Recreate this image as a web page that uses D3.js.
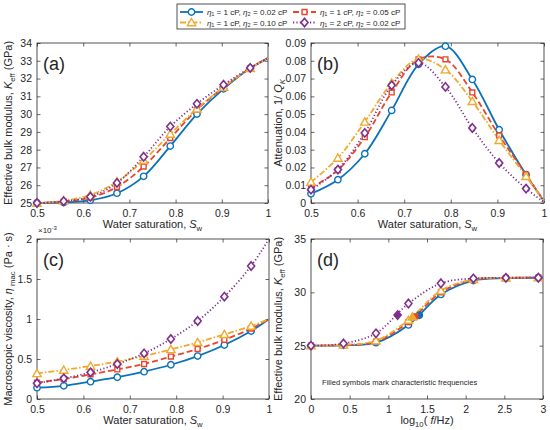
<!DOCTYPE html>
<html>
<head>
<meta charset="utf-8">
<script src="https://cdn.jsdelivr.net/npm/d3@7"></script>
<style>
  body { margin: 0; background: #fff; }
  text { font-family: "Liberation Sans", Arial, sans-serif; fill: #262626; }
</style>
</head>
<body>
<svg id="fig" width="550" height="430"></svg>
<script>
// ---- data ----
var swMarks = [0.5, 0.5577, 0.6154, 0.6731, 0.7308, 0.7885, 0.8462, 0.9038, 0.9615];
var sw = swMarks.concat([1.0]);

// (a) effective bulk modulus, GPa
var kBlue   = [25.0, 25.03, 25.15, 25.55, 26.5, 28.2, 30.0, 31.42, 32.58, 33.15];
var kRed    = [25.0, 25.08, 25.3, 25.9, 27.05, 28.65, 30.25, 31.5, 32.58, 33.15];
var kYellow = [25.0, 25.13, 25.45, 26.2, 27.4, 28.88, 30.3, 31.52, 32.58, 33.15];
var kPurple = [25.0, 25.1, 25.35, 26.13, 27.6, 29.3, 30.58, 31.65, 32.6, 33.15];

// (b) attenuation 1/Q_K
var qBlue   = [0.0052, 0.0131, 0.0277, 0.0521, 0.078, 0.0882, 0.0695, 0.0412, 0.0159, 0.001];
var qRed    = [0.0085, 0.0185, 0.037, 0.0622, 0.0808, 0.0808, 0.0622, 0.038, 0.016, 0.001];
var qYellow = [0.0118, 0.0253, 0.0456, 0.0675, 0.081, 0.075, 0.0572, 0.0353, 0.015, 0.001];
var qPurple = [0.0075, 0.0188, 0.0394, 0.0662, 0.0788, 0.0653, 0.0422, 0.0225, 0.0081, 0.0005];

// (c) macroscopic viscosity, x1e-3 Pa s
var vBlue   = [0.142, 0.165, 0.217, 0.272, 0.342, 0.428, 0.537, 0.675, 0.85, 1.0];
var vRed    = [0.204, 0.25, 0.308, 0.37, 0.4375, 0.53, 0.625, 0.74, 0.88, 1.0];
var vYellow = [0.32, 0.3625, 0.4125, 0.467, 0.5375, 0.62, 0.708, 0.808, 0.9125, 1.0];
var vPurple = [0.196, 0.258, 0.333, 0.4375, 0.57, 0.75, 0.975, 1.279, 1.6625, 2.0];

// (d) K_eff vs log10 frequency
var fMarks = [0, 0.42, 0.84, 1.26, 1.68, 2.1, 2.52, 2.94];
var logf = fMarks.concat([3.0]);
var dBlue   = [25.0, 25.03, 25.28, 26.94, 29.8, 31.1, 31.33, 31.37, 31.37];
var dRed    = [25.0, 25.05, 25.38, 27.2, 30.0, 31.18, 31.35, 31.37, 31.37];
var dYellow = [25.0, 25.07, 25.47, 27.4, 30.16, 31.22, 31.36, 31.37, 31.37];
var dPurple = [25.0, 25.2, 26.16, 28.95, 30.85, 31.3, 31.36, 31.37, 31.37];
// characteristic frequencies (filled symbols), order blue, red, yellow, purple
var fcX = [1.40, 1.35, 1.31, 1.12];
var fcY = [27.85, 27.75, 27.7, 27.87];

var seriesNames = [
  [["η", 1], ["₁", 0], [" = 1 cP, ", 0], ["η", 1], ["₂", 0], [" = 0.02 cP", 0]],
  [["η", 1], ["₁", 0], [" = 1 cP, ", 0], ["η", 1], ["₂", 0], [" = 0.05 cP", 0]],
  [["η", 1], ["₁", 0], [" = 1 cP, ", 0], ["η", 1], ["₂", 0], [" = 0.10 cP", 0]],
  [["η", 1], ["₁", 0], [" = 2 cP, ", 0], ["η", 1], ["₂", 0], [" = 0.02 cP", 0]]
];

var colors = ["#0b72b9", "#e8452c", "#f0a92e", "#7e2f8e"];
var dashes = [null, "6,3", "6,2,1.5,2", "1.2,2.2"];
var symbols = [d3.symbolCircle, d3.symbolSquare, d3.symbolTriangle, d3.symbolDiamond];
var symSizes = [32, 24, 30, 30];

var svg = d3.select("#fig");
svg.append("rect").attr("width", 550).attr("height", 430).attr("fill", "#fff");

function richText(sel, parts, size) {
  parts.forEach(function(p) {
    var t = sel.append("tspan").text(p[0]);
    if (p[1] == 1) t.style("font-style", "italic");
    if (p[2] == "sub") t.attr("font-size", size * 0.7).attr("dy", 3);
    if (p[2] == "up") t.attr("dy", -3);
  });
}

function marker(g, i, x, y, filled) {
  var path = d3.symbol().type(symbols[i]).size(symSizes[i])();
  g.append("path")
    .attr("d", path)
    .attr("transform", "translate(" + x + "," + (i == 2 ? y + 0.8 : y) + ")" + (i == 3 ? "scale(1.2,0.82)" : ""))
    .attr("fill", filled ? colors[i] : "#fff")
    .attr("stroke", colors[i])
    .attr("stroke-width", i == 3 ? 1.5 : 1.4);
}

function panel(opt) {
  var x = d3.scaleLinear().domain(opt.xd).range([opt.left, opt.right]);
  var y = d3.scaleLinear().domain(opt.yd).range([opt.bottom, opt.top]);
  var g = svg.append("g");

  // axes, MATLAB style: inward ticks on all four sides
  var ax = g.append("g").attr("transform", "translate(0," + opt.bottom + ")")
    .call(d3.axisBottom(x).tickValues(opt.xt).tickSizeInner(-3.5).tickSizeOuter(0).tickPadding(5).tickFormat(d3.format("~g")));
  var axTop = g.append("g").attr("transform", "translate(0," + opt.top + ")")
    .call(d3.axisTop(x).tickValues(opt.xt).tickSizeInner(-3.5).tickSizeOuter(0).tickFormat(""));
  var ay = g.append("g").attr("transform", "translate(" + opt.left + ",0)")
    .call(d3.axisLeft(y).tickValues(opt.yt).tickSizeInner(-3.5).tickSizeOuter(0).tickPadding(5).tickFormat(opt.yf || d3.format("~g")));
  var ayR = g.append("g").attr("transform", "translate(" + opt.right + ",0)")
    .call(d3.axisRight(y).tickValues(opt.yt).tickSizeInner(-3.5).tickSizeOuter(0).tickFormat(""));
  [ax, axTop, ay, ayR].forEach(function(a) {
    a.select(".domain").remove();
    a.selectAll("line").attr("stroke", "#262626").attr("stroke-width", 0.7);
    a.selectAll("text").attr("font-size", 10.5).attr("fill", "#262626")
      .style("font-family", "'Liberation Sans', Arial, sans-serif");
  });
  ax.selectAll("text").attr("dy", "0.85em");
  g.append("rect").attr("x", opt.left).attr("y", opt.top)
    .attr("width", opt.right - opt.left).attr("height", opt.bottom - opt.top)
    .attr("fill", "none").attr("stroke", "#262626").attr("stroke-width", 0.8);

  var line = d3.line().curve(d3.curveCatmullRom.alpha(0.5))
    .x(function(d) { return x(d[0]); }).y(function(d) { return y(d[1]); });

  var plot = g.append("g");
  opt.series.forEach(function(vals, i) {
    var pts = opt.xs.map(function(xv, j) { return [xv, vals[j]]; });
    plot.append("path").attr("d", line(pts))
      .attr("fill", "none").attr("stroke", colors[i]).attr("stroke-width", 1.8)
      .attr("stroke-dasharray", dashes[i]);
  });
  opt.series.forEach(function(vals, i) {
    opt.marks.forEach(function(xv, j) {
      marker(plot, i, x(xv), y(vals[j]), false);
    });
  });
  if (opt.filledX) {
    opt.filledX.forEach(function(xv, i) {
      marker(plot, i, x(xv), y(opt.filledY[i]), true);
    });
  }

  // panel tag
  g.append("text").attr("x", opt.left + 6).attr("y", opt.top + 27)
    .attr("font-size", 18).text("(" + opt.tag + ")");

  // x label
  var xl = g.append("text").attr("x", (opt.left + opt.right) / 2).attr("y", opt.bottom + 25)
    .attr("text-anchor", "middle").attr("font-size", 11);
  richText(xl, opt.xlab, 11);
  // y label
  var yl = g.append("text")
    .attr("transform", "translate(" + (opt.left - opt.ylabOff) + "," + ((opt.top + opt.bottom) / 2) + ")rotate(-90)")
    .attr("text-anchor", "middle").attr("font-size", 11);
  richText(yl, opt.ylab, 11);
  return { x: x, y: y, g: g };
}

var swLabel = [["Water saturation,  ", 0], ["S", 1], ["w", 0, "sub"]];
var kLabel = [["Effective bulk modulus,  ", 0], ["K", 1], ["eff", 0, "sub"], [" (GPa)", 0, "up"]];
var swTicks = [0.5, 0.6, 0.7, 0.8, 0.9, 1];

panel({
  tag: "a", left: 37, right: 268, top: 43, bottom: 203,
  xd: [0.5, 1], yd: [25, 34], xt: swTicks, yt: d3.range(25, 35, 1),
  xs: sw, marks: swMarks, series: [kBlue, kRed, kYellow, kPurple],
  xlab: swLabel, ylab: kLabel, ylabOff: 25
});

panel({
  tag: "b", left: 311, right: 544, top: 43, bottom: 203,
  xd: [0.5, 1], yd: [0, 0.09], xt: swTicks, yt: d3.range(0, 0.0901, 0.01),
  yf: function(d) { return d3.format("~g")(+d.toFixed(2)); },
  xs: sw, marks: swMarks, series: [qBlue, qRed, qYellow, qPurple],
  xlab: swLabel,
  ylab: [["Attenuation,  1/ ", 0], ["Q", 1], ["K", 1, "sub"]], ylabOff: 29
});

var pc = panel({
  tag: "c", left: 37, right: 269, top: 239, bottom: 399,
  xd: [0.5, 1], yd: [0, 2], xt: swTicks, yt: [0, 0.5, 1, 1.5, 2],
  xs: sw, marks: swMarks, series: [vBlue, vRed, vYellow, vPurple],
  xlab: swLabel,
  ylab: [["Macroscopic viscosity, ", 0], ["η", 1], [" mac", 0, "sub"], [" (Pa · s)", 0, "up"]], ylabOff: 25
});
pc.g.append("text").attr("x", 38).attr("y", 233).attr("font-size", 8)
  .text("×10").append("tspan").attr("font-size", 6).attr("dy", -3).text("-3");

var pd = panel({
  tag: "d", left: 311, right: 543, top: 239, bottom: 399,
  xd: [0, 3], yd: [20, 35], xt: [0, 0.5, 1, 1.5, 2, 2.5, 3], yt: [20, 25, 30, 35],
  xs: logf, marks: fMarks, series: [dBlue, dRed, dYellow, dPurple],
  filledX: fcX, filledY: fcY,
  xlab: [["log", 0], ["10", 0, "sub"], ["( ", 0, "up"], ["f", 1], ["/Hz)", 0]],
  ylab: kLabel, ylabOff: 29
});
pd.g.append("text").attr("x", 322).attr("y", 385).attr("font-size", 7.6)
  .text("Filled symbols mark characteristic frequencies");

// ---- legend ----
var lg = svg.append("g");
lg.append("rect").attr("x", 177).attr("y", 4).attr("width", 228).attr("height", 25)
  .attr("fill", "#fff").attr("stroke", "#262626").attr("stroke-width", 0.8);
var legPos = [[180, 12], [293, 12], [180, 22.5], [293, 22.5]];
seriesNames.forEach(function(name, i) {
  var px = legPos[i][0], py = legPos[i][1];
  lg.append("line").attr("x1", px).attr("x2", px + 23).attr("y1", py).attr("y2", py)
    .attr("stroke", colors[i]).attr("stroke-width", 1.8).attr("stroke-dasharray", dashes[i]);
  marker(lg, i, px + 11.5, py, false);
  var t = lg.append("text").attr("x", px + 27).attr("y", py + 3).attr("font-size", 8.1);
  richText(t, name, 8.1);
});
</script>
</body>
</html>
